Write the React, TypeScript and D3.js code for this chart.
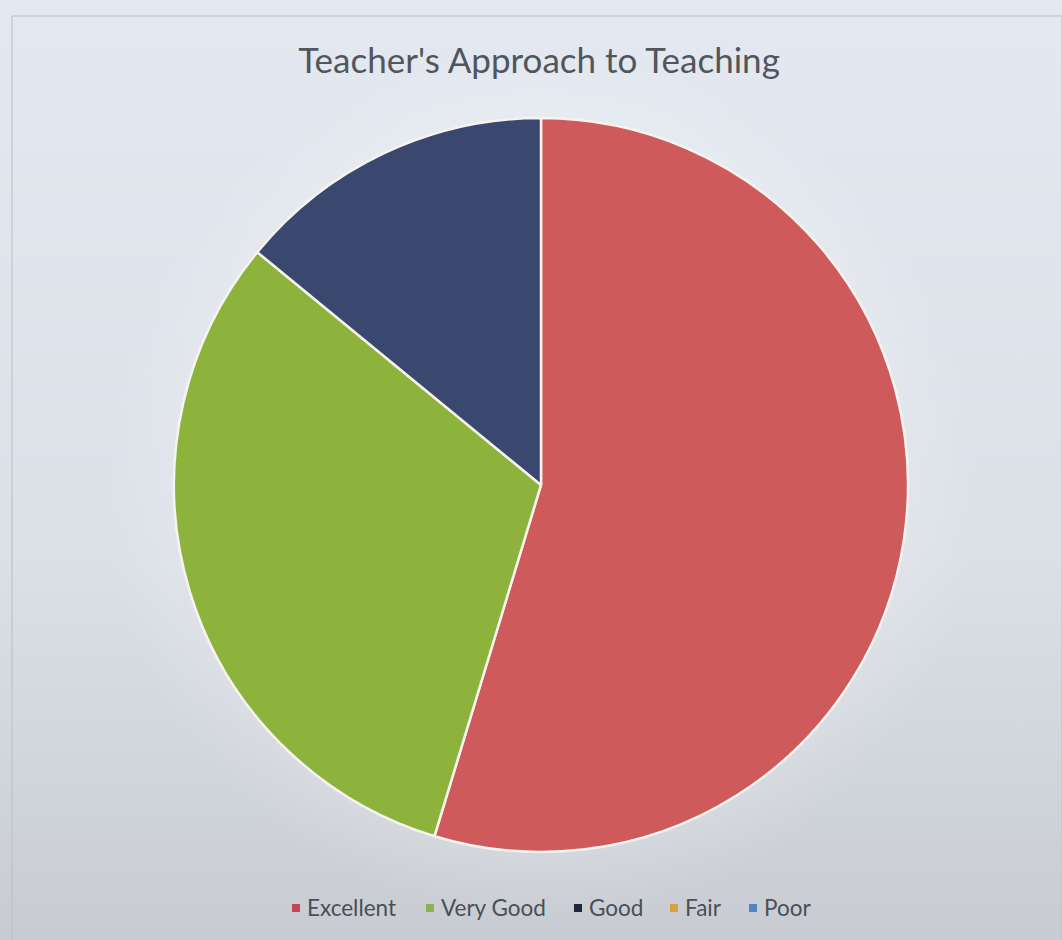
import React from "react";
import * as d3 from "d3";

const categories = ["Excellent", "Very Good", "Good", "Fair", "Poor"];
const values = [35, 20, 9, 0, 0];
const sliceColors = ["#cf5a5c", "#8db33c", "#3a4870", "#d9a048", "#5b8fc4"];
const legendColors = ["#c4465a", "#8fb050", "#1e2840", "#d9a048", "#4f86bf"];
const title = "Teacher's Approach to Teaching";

const W = 1062;
const H = 940;

export default function App() {
  const cx = 541;
  const cy = 485;
  const r = 367;
  const data = categories.map((c, i) => ({ c, v: values[i], i }));
  const pie = d3
    .pie<any>()
    .sort(null)
    .value((d: any) => d.v)
    .startAngle(0)
    .endAngle(2 * Math.PI);
  const arc = d3.arc<any>().innerRadius(0).outerRadius(r);
  const arcs = pie(data).filter((a) => a.data.v > 0);

  const legendX = [292, 426, 574, 670, 749];
  const legendY = 908;

  return (
    <svg
      width={W}
      height={H}
      style={{ position: "absolute", left: 0, top: 0, display: "block" }}
    >
      <defs>
        <linearGradient id="bg" x1="0" y1="0" x2="0" y2="1">
          <stop offset="0" stopColor="#e4e9f1" />
          <stop offset="0.6" stopColor="#dbe0e7" />
          <stop offset="1" stopColor="#c8ccd2" />
        </linearGradient>
        <radialGradient id="halo" cx="0.5" cy="0.5" r="0.5">
          <stop offset="0.8" stopColor="#ffffff" stopOpacity="0.18" />
          <stop offset="1" stopColor="#ffffff" stopOpacity="0" />
        </radialGradient>
      </defs>
      <rect x={0} y={0} width={W} height={H} fill="url(#bg)" />
      <rect
        x={12}
        y={16}
        width={W - 12}
        height={H}
        fill="none"
        stroke="#b9bec6"
        strokeWidth={1}
      />
      <circle cx={cx} cy={cy} r={r + 70} fill="url(#halo)" />
      <text
        x={539}
        y={73}
        textAnchor="middle"
        fontFamily="Lato, 'Open Sans', sans-serif"
        fontSize={35}
        fill="#51565d"
      >
        {title}
      </text>
      <g transform={`translate(${cx},${cy})`}>
        {arcs.map((a) => (
          <path
            key={a.data.c}
            d={arc(a) as string}
            fill={sliceColors[a.data.i]}
            stroke="#f7f3ee"
            strokeWidth={2.5}
            strokeLinejoin="round"
          />
        ))}
      </g>
      <g fontFamily="Lato, 'Open Sans', sans-serif" fontSize={22.5} fill="#4a4f56">
        {categories.map((c, i) => (
          <g key={c} transform={`translate(${legendX[i]},${legendY})`}>
            <rect x={0} y={-4} width={8} height={8} fill={legendColors[i]} />
            <text x={15} y={8}>
              {c}
            </text>
          </g>
        ))}
      </g>
    </svg>
  );
}
